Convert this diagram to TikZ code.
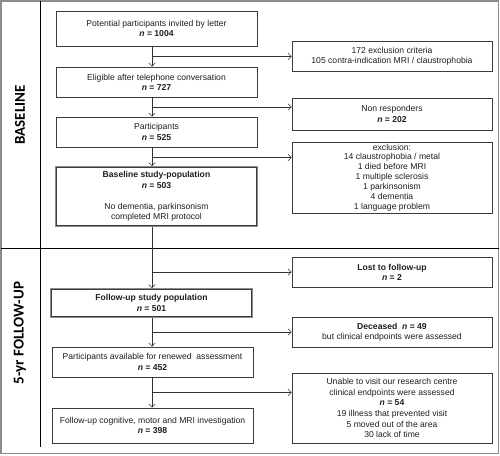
\documentclass[tikz,border=0pt]{standalone}
\usepackage{fontspec}
\setmainfont{Liberation Sans}
\newfontfamily\labfont{Carlito}
\usetikzlibrary{arrows.meta}
\definecolor{boxc}{HTML}{3C3C3C}
\definecolor{framec}{HTML}{8C8C8C}
\definecolor{linec}{HTML}{333333}
\definecolor{txt}{HTML}{1E1E1E}
\newcommand\nval[1]{\textbf{\textit{n} = #1}}
\begin{document}
\begin{tikzpicture}[x=1pt,y=-1pt,
  box/.style={draw=boxc, line width=0.7pt, align=center, inner sep=0pt, text=txt,
    font=\fontsize{8.6}{10.2}\selectfont},
  lbox/.style={box, minimum width=201pt},
  rbox/.style={box, minimum width=200pt},
  dbl/.style={box, draw=framec, line width=1.8pt},
  arr/.style={draw=linec, line width=0.6pt, -{Straight Barb[length=3.2pt,width=6.5pt]}},
  sep/.style={draw=black, line width=0.9pt},
  lab/.style={rotate=90, font=\labfont\bfseries\fontsize{15}{18}\selectfont, text=black}]
\useasboundingbox (0,0) rectangle (500,455);
% frame and separators
\draw[framec, line width=1.5pt] (0.75,0.75) rectangle (498.5,453.5);
\coordinate (vt) at (40.5,0.75);
\coordinate (vb) at (40.5,447);
\coordinate (hl) at (0.75,248);
\coordinate (hr) at (498.5,248);
\draw[sep] (vt) -- (vb);
\draw[sep] (hl) -- (hr);
\node[lab] (lbase) at (20,115) {BASELINE};
\node[lab] (lfu) at (20,333) {5-yr FOLLOW-UP};
% trunk x
\coordinate (tr) at (152,0);
% left column
\node[lbox, minimum height=35pt] (b1) at (156.5,28.5) {Potential participants invited by letter\\\nval{1004}};
\node[lbox, minimum height=30pt] (b2) at (156.5,82) {Eligible after telephone conversation\\\nval{727}};
\node[lbox, minimum height=30pt] (b3) at (156.5,132) {Participants\\\nval{525}};
\node[dbl, minimum width=201pt, minimum height=59pt] (b4) at (156.5,196.5) {\textbf{Baseline study-population}\\\nval{503}\\[11pt]No dementia, parkinsonism\\completed MRI protocol};
\draw[boxc, line width=0.6pt] ([shift={(1.6,1.6)}]b4.north west) rectangle ([shift={(-1.6,-1.6)}]b4.south east);
\node[dbl, minimum width=201pt, minimum height=28pt] (fu) at (151.5,303) {\textbf{Follow-up study population}\\\nval{501}};
\draw[boxc, line width=0.6pt] ([shift={(1.6,1.6)}]fu.north west) rectangle ([shift={(-1.6,-1.6)}]fu.south east);
\node[lbox, minimum height=30pt] (pa) at (152.5,362) {Participants available for renewed\ \ assessment\\\nval{452}};
\node[lbox, minimum height=35pt] (fc) at (152.5,425.5) {Follow-up cognitive, motor and MRI investigation\\\nval{398}};
% right column
\node[rbox, minimum height=30pt] (r1) at (392,56) {172 exclusion criteria\\105 contra-indication MRI / claustrophobia};
\node[rbox, minimum height=32pt] (r2) at (392,114) {Non responders\\\nval{202}};
\node[rbox, minimum height=71pt, font=\fontsize{8.6}{9.9}\selectfont] (r3) at (392,177.5) {exclusion:\\14 claustrophobia / metal\\1 died before MRI\\1 multiple sclerosis\\1 parkinsonism\\4 dementia\\1 language problem};
\node[rbox, minimum height=30pt] (r4) at (392,272) {\textbf{Lost to follow-up}\\\nval{2}};
\node[rbox, minimum height=30pt] (r5) at (392,332) {\textbf{Deceased} \ \nval{49}\\but clinical endpoints were assessed};
\node[rbox, minimum height=70pt, font=\fontsize{8.6}{10.7}\selectfont] (r6) at (392,408) {Unable to visit our research centre\\clinical endpoints were assessed\\\nval{54}\\19 illness that prevented visit\\5 moved out of the area\\30 lack of time};
% vertical arrows
\draw[arr] (b1.south -| tr) -- (b2.north -| tr);
\draw[arr] (b2.south -| tr) -- (b3.north -| tr);
\draw[arr] (b3.south -| tr) -- (b4.north -| tr);
\draw[arr] (b4.south -| tr) -- (fu.north -| tr);
\draw[arr] (fu.south -| tr) -- (pa.north -| tr);
\draw[arr] (pa.south -| tr) -- (fc.north -| tr);
% branch points
\coordinate (j1) at (152,56.5);
\coordinate (j2) at (152,107);
\coordinate (j3) at (152,157.5);
\coordinate (j4) at (152,272);
\coordinate (j5) at (152,332);
\coordinate (j6) at (152,392.5);
\draw[arr] (j1) -- (j1 -| r1.west);
\draw[arr] (j2) -- (j2 -| r2.west);
\draw[arr] (j3) -- (j3 -| r3.west);
\draw[arr] (j4) -- (j4 -| r4.west);
\draw[arr] (j5) -- (j5 -| r5.west);
\draw[arr] (j6) -- (j6 -| r6.west);
\end{tikzpicture}
\end{document}
